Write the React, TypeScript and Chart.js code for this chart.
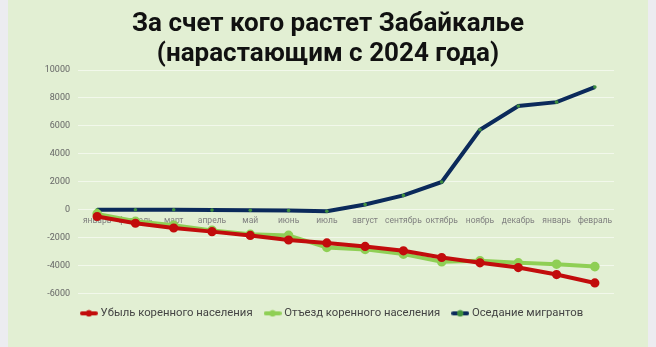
import React, { useEffect, useRef } from "react";
import { Chart, registerables } from "chart.js";

Chart.register(...registerables);

const months = [
  "январь", "февраль", "март", "апрель", "май", "июнь", "июль",
  "август", "сентябрь", "октябрь", "ноябрь", "декабрь", "январь", "февраль",
];
const lossNative = [-480, -960, -1300, -1560, -1830, -2160, -2370, -2620, -2930, -3410, -3790, -4130, -4630, -5230];
const outflowNative = [-290, -820, -1110, -1470, -1750, -1830, -2690, -2830, -3170, -3720, -3650, -3790, -3890, -4060];
const migrants = [0, 0, 0, -20, -30, -50, -100, 380, 1030, 1990, 5730, 7430, 7700, 8780];
const seriesNames = ["Убыль коренного населения", "Отъезд коренного населения", "Оседание мигрантов"];
const titleLines = ["За счет кого растет Забайкалье", "(нарастающим с 2024 года)"];

const RED = "#c20c0c";
const LGREEN = "#8fcf55";
const NAVY = "#0b2a5b";
const DOT = "#3f8f3f";

function makeMarker(line: string, dot: string) {
  const c = document.createElement("canvas");
  c.width = 18;
  c.height = 8;
  const ctx = c.getContext("2d")!;
  ctx.strokeStyle = line;
  ctx.lineWidth = 4;
  ctx.lineCap = "round";
  ctx.beginPath();
  ctx.moveTo(2, 4);
  ctx.lineTo(16, 4);
  ctx.stroke();
  ctx.fillStyle = dot;
  ctx.beginPath();
  ctx.arc(9, 4, 3.2, 0, Math.PI * 2);
  ctx.fill();
  return c;
}

export default function App() {
  const ref = useRef<HTMLCanvasElement>(null);
  useEffect(() => {
    const markers = [makeMarker(RED, RED), makeMarker(LGREEN, LGREEN), makeMarker(NAVY, DOT)];
    const chart = new Chart(ref.current!, {
      type: "line",
      data: {
        labels: months,
        datasets: [
          {
            label: seriesNames[0],
            data: lossNative,
            borderColor: RED,
            backgroundColor: RED,
            pointBackgroundColor: RED,
            pointBorderColor: RED,
            borderWidth: 4,
            pointRadius: 2.6,
          },
          {
            label: seriesNames[1],
            data: outflowNative,
            borderColor: LGREEN,
            backgroundColor: LGREEN,
            pointBackgroundColor: LGREEN,
            pointBorderColor: LGREEN,
            borderWidth: 4,
            pointRadius: 2.8,
          },
          {
            label: seriesNames[2],
            data: migrants,
            borderColor: NAVY,
            backgroundColor: NAVY,
            pointBackgroundColor: DOT,
            pointBorderColor: DOT,
            borderWidth: 4,
            pointRadius: 1.8,
            pointBorderWidth: 0,
          },
        ],
      },
      options: {
        animation: false,
        responsive: false,
        maintainAspectRatio: false,
        layout: { padding: { left: 10, right: 0, bottom: 18, top: 70 } },
        plugins: {
          title: { display: false },
          legend: {
            position: "bottom",
            labels: {
              usePointStyle: true,
              pointStyleWidth: 12,
              boxHeight: 8,
              color: "#444",
              font: { family: "Roboto", size: 11.3 },
              padding: 14,
              generateLabels: (ch: any) => {
                const items = Chart.defaults.plugins.legend.labels.generateLabels(ch);
                return items.map((it: any, i: number) => ({ ...it, pointStyle: markers[i] }));
              },
            },
          },
          tooltip: { enabled: false },
        },
        scales: {
          y: {
            min: -6000,
            max: 10000,
            afterFit: (s: any) => {
              s.width = 60;
            },
            ticks: {
              stepSize: 2000,
              color: "#666",
              padding: 8,
              font: { family: "Roboto", size: 9 },
              callback: (v: any) => String(v),
            },
            grid: { color: "rgba(255,255,255,0.55)", drawTicks: false, lineWidth: 1 },
            border: { display: false },
          },
          yRight: {
            position: "right",
            display: true,
            afterFit: (s: any) => {
              s.width = 34;
            },
            ticks: { display: false },
            grid: { display: false, drawTicks: false },
            border: { display: false },
          },
          x: {
            position: { y: 0 },
            offset: true,
            grid: { display: false, drawTicks: false },
            border: { display: false },
            ticks: {
              color: "#808080",
              padding: 6,
              maxRotation: 0,
              autoSkip: false,
              font: { family: "Roboto", size: 8.5 },
            },
          },
        },
      },
    });
    return () => chart.destroy();
  }, []);
  return (
    <div style={{ position: "fixed", left: 0, top: 0, width: 656, height: 347, background: "#ececf0" }}>
      <div style={{ position: "absolute", left: 8, top: 0, width: 640, height: 347, background: "#e2efd3" }}>
        <canvas ref={ref} width={640} height={347} style={{ display: "block" }} />
        <div
          style={{
            position: "absolute",
            left: 0,
            top: 7,
            width: 640,
            textAlign: "center",
            fontFamily: "Roboto",
            fontWeight: 700,
            fontSize: 26,
            lineHeight: "30px",
            color: "#111",
          }}
        >
          <div>{titleLines[0]}</div>
          <div>{titleLines[1]}</div>
        </div>
      </div>
    </div>
  );
}
